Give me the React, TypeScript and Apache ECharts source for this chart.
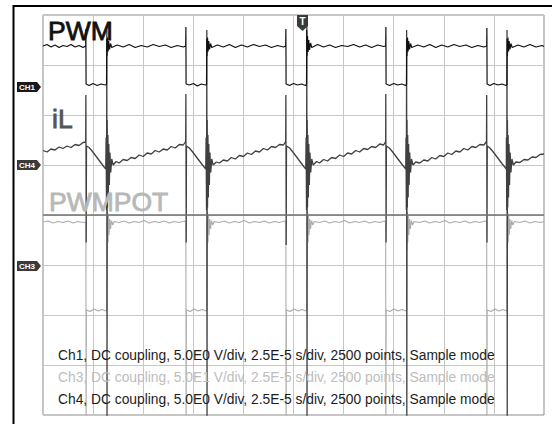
import React, { useEffect, useRef } from "react";
import * as echarts from "echarts";

// Time axis in microseconds (10 div x 25 us), vertical axis in screen divisions (-4..4)
const TIME_TICKS = [0, 25, 50, 75, 100, 125, 150, 175, 200, 225, 250];

// Ch1 – PWM
const ch1PWM: number[][] = [
  [0, 3.38], [2, 3.41], [4, 3.36], [6, 3.4], [8, 3.35], [10, 3.39], [12, 3.37], [14, 3.41], [16, 3.36], [18, 3.39], [20, 3.35], [21.3, 3.38],
  [21.4, 3.72], [21.5, 2.62], [23, 2.59], [25, 2.63], [27, 2.59], [29, 2.62], [31, 2.6], [31.7, 2.61],
  [31.8, 3.52], [31.95, 3.18], [32.2, 3.55], [32.5, 3.27], [32.8, 3.48], [33.2, 3.31], [33.7, 3.43], [34.3, 3.35],
  [37, 3.4], [40, 3.36], [43, 3.41], [46, 3.35], [49, 3.39], [52, 3.36], [55, 3.41], [58, 3.37], [61, 3.4], [64, 3.35], [67, 3.39], [70, 3.36], [71.2, 3.38],
  [71.3, 3.76], [71.4, 2.62], [73, 2.6], [75, 2.63], [77, 2.58], [79, 2.62], [81, 2.6], [81.6, 2.61],
  [81.7, 3.52], [81.85, 3.18], [82.1, 3.55], [82.4, 3.27], [82.7, 3.48], [83.1, 3.31], [83.6, 3.43], [84.2, 3.35],
  [87, 3.4], [90, 3.36], [93, 3.41], [96, 3.35], [99, 3.4], [102, 3.36], [105, 3.41], [108, 3.37], [111, 3.4], [114, 3.35], [117, 3.39], [120, 3.36], [121.1, 3.38],
  [121.2, 3.72], [121.3, 2.62], [123, 2.59], [125, 2.63], [127, 2.6], [129, 2.62], [131, 2.59], [131.5, 2.61],
  [131.6, 3.7], [131.75, 3.18], [132, 3.58], [132.3, 3.26], [132.6, 3.5], [133, 3.3], [133.5, 3.44], [134.1, 3.35],
  [137, 3.41], [140, 3.36], [143, 3.4], [146, 3.35], [149, 3.39], [152, 3.37], [155, 3.41], [158, 3.36], [161, 3.4], [164, 3.35], [167, 3.4], [170, 3.37], [171, 3.38],
  [171.1, 3.76], [171.2, 2.62], [173, 2.59], [175, 2.63], [177, 2.6], [179, 2.62], [181, 2.59], [181.4, 2.61],
  [181.5, 3.52], [181.65, 3.18], [181.9, 3.55], [182.2, 3.27], [182.5, 3.48], [182.9, 3.31], [183.4, 3.43], [184, 3.35],
  [187, 3.4], [190, 3.36], [193, 3.41], [196, 3.35], [199, 3.4], [202, 3.36], [205, 3.41], [208, 3.37], [211, 3.4], [214, 3.35], [217, 3.39], [220, 3.36], [221.4, 3.38],
  [221.5, 3.74], [221.6, 2.62], [223, 2.59], [225, 2.63], [227, 2.6], [229, 2.62], [231, 2.59], [231.5, 2.61],
  [231.6, 3.52], [231.75, 3.18], [232, 3.55], [232.3, 3.27], [232.6, 3.48], [233, 3.31], [233.5, 3.43], [234.1, 3.35],
  [237, 3.4], [240, 3.36], [243, 3.41], [246, 3.36], [249, 3.39], [250, 3.37],
];

// Ch4 – iL
const ch4IL: number[][] = [
  [0, 1.29], [2, 1.26], [4, 1.32], [6, 1.3], [8, 1.36], [10, 1.33], [12, 1.38], [14, 1.35], [16, 1.41], [18, 1.39], [20, 1.45], [21.3, 1.46],
  [21.4, 2.4], [21.55, -0.55], [21.7, 1.38], [23, 1.35], [24.5, 1.28], [26, 1.2], [27.5, 1.12], [29, 1.04], [30.5, 0.96], [31.3, 0.92],
  [31.5, 1.55], [31.7, 0.1], [31.85, 3.7], [31.95, -4.5], [32.05, 1.9], [32.2, 0.15], [32.4, 1.6], [32.6, 0.35], [32.85, 1.42], [33.1, 0.6], [33.4, 1.25], [33.8, 0.85], [34.3, 1.12], [35, 1.0],
  [36.5, 1.07], [38, 1.04], [40, 1.11], [42, 1.09], [44, 1.15], [46, 1.13], [48, 1.2], [50, 1.17], [52, 1.24], [54, 1.22], [56, 1.29], [58, 1.26], [60, 1.32], [62, 1.3], [64, 1.37], [66, 1.34], [68, 1.41], [70, 1.4], [71.2, 1.47],
  [71.3, 2.42], [71.45, -0.55], [71.6, 1.38], [73, 1.34], [74.5, 1.27], [76, 1.19], [77.5, 1.11], [79, 1.03], [80.4, 0.96], [81.2, 0.92],
  [81.4, 1.55], [81.6, 0.1], [81.75, 3.7], [81.85, -4.5], [81.95, 1.9], [82.1, 0.15], [82.3, 1.6], [82.5, 0.35], [82.75, 1.42], [83, 0.6], [83.3, 1.25], [83.7, 0.85], [84.2, 1.12], [84.9, 1.0],
  [86.5, 1.06], [88, 1.04], [90, 1.1], [92, 1.08], [94, 1.15], [96, 1.12], [98, 1.19], [100, 1.17], [102, 1.24], [104, 1.21], [106, 1.28], [108, 1.26], [110, 1.33], [112, 1.3], [114, 1.37], [116, 1.35], [118, 1.41], [120, 1.4], [121.1, 1.47],
  [121.2, 2.4], [121.35, -0.6], [121.5, 1.38], [123, 1.34], [124.5, 1.27], [126, 1.19], [127.5, 1.11], [129, 1.03], [130.3, 0.96], [131.1, 0.92],
  [131.3, 1.55], [131.5, 0.1], [131.65, 3.8], [131.75, -4.5], [131.85, 1.9], [132, 0.15], [132.2, 1.6], [132.4, 0.35], [132.65, 1.42], [132.9, 0.6], [133.2, 1.25], [133.6, 0.85], [134.1, 1.12], [134.8, 1.0],
  [136.5, 1.07], [138, 1.04], [140, 1.11], [142, 1.08], [144, 1.15], [146, 1.13], [148, 1.2], [150, 1.17], [152, 1.24], [154, 1.22], [156, 1.29], [158, 1.26], [160, 1.33], [162, 1.31], [164, 1.37], [166, 1.35], [168, 1.42], [170, 1.4], [171, 1.47],
  [171.05, 2.42], [171.2, -0.55], [171.35, 1.38], [172.8, 1.34], [174.3, 1.27], [175.8, 1.19], [177.3, 1.11], [178.8, 1.03], [180.2, 0.96], [181, 0.92],
  [181.15, 1.55], [181.3, 0.1], [181.45, 3.7], [181.55, -4.5], [181.65, 1.9], [181.8, 0.15], [182, 1.6], [182.2, 0.35], [182.45, 1.42], [182.7, 0.6], [183, 1.25], [183.4, 0.85], [183.9, 1.12], [184.6, 1.0],
  [186, 1.06], [188, 1.04], [190, 1.1], [192, 1.08], [194, 1.15], [196, 1.12], [198, 1.19], [200, 1.17], [202, 1.24], [204, 1.21], [206, 1.28], [208, 1.26], [210, 1.33], [212, 1.3], [214, 1.37], [216, 1.35], [218, 1.41], [220, 1.4], [221.3, 1.47],
  [221.4, 2.4], [221.55, -0.55], [221.7, 1.38], [223, 1.34], [224.5, 1.27], [226, 1.19], [227.5, 1.11], [229, 1.03], [230.4, 0.96], [231.2, 0.92],
  [231.25, 1.55], [231.4, 0.1], [231.55, 3.7], [231.65, -4.5], [231.75, 1.9], [231.9, 0.15], [232.1, 1.6], [232.3, 0.35], [232.55, 1.42], [232.8, 0.6], [233.1, 1.25], [233.5, 0.85], [234, 1.12], [234.7, 1.0],
  [236, 1.06], [238, 1.05], [240, 1.11], [242, 1.1], [244, 1.16], [246, 1.15], [248, 1.21], [250, 1.22],
];

// Ch3 – PWMPOT
const ch3PWMPOT: number[][] = [
  [0, -0.14], [2.5, -0.12], [5, -0.16], [7.5, -0.13], [10, -0.15], [12.5, -0.12], [15, -0.16], [17.5, -0.13], [20, -0.15], [21.4, -0.14],
  [21.5, -4.5], [21.65, -1.9], [23.5, -1.93], [25.5, -1.88], [27.5, -1.92], [29.5, -1.89], [31.5, -1.92], [31.85, -1.9],
  [31.95, -0.14], [32.05, -0.7], [32.25, 0.05], [32.45, -0.55], [32.7, -0.02], [32.95, -0.4], [33.3, -0.08], [33.7, -0.28], [34.2, -0.11], [34.8, -0.2], [35.5, -0.13],
  [38, -0.15], [40.5, -0.12], [43, -0.16], [45.5, -0.13], [48, -0.15], [50.5, -0.11], [53, -0.16], [55.5, -0.13], [58, -0.15], [60.5, -0.12], [63, -0.16], [65.5, -0.13], [68, -0.15], [70.5, -0.12], [71.3, -0.14],
  [71.4, -4.5], [71.55, -1.9], [73.4, -1.93], [75.4, -1.88], [77.4, -1.92], [79.4, -1.89], [81.4, -1.92], [81.75, -1.9],
  [81.85, -0.14], [81.95, -0.7], [82.15, 0.05], [82.35, -0.55], [82.6, -0.02], [82.85, -0.4], [83.2, -0.08], [83.6, -0.28], [84.1, -0.11], [84.7, -0.2], [85.4, -0.13],
  [88, -0.15], [90.5, -0.12], [93, -0.16], [95.5, -0.13], [98, -0.15], [100.5, -0.11], [103, -0.16], [105.5, -0.13], [108, -0.15], [110.5, -0.12], [113, -0.16], [115.5, -0.13], [118, -0.15], [120.5, -0.12], [121.2, -0.14],
  [121.3, -4.5], [121.45, -1.9], [123.3, -1.93], [125.3, -1.88], [127.3, -1.92], [129.3, -1.89], [131.3, -1.92], [131.65, -1.9],
  [131.75, -0.14], [131.85, -0.7], [132.05, 0.05], [132.25, -0.55], [132.5, -0.02], [132.75, -0.4], [133.1, -0.08], [133.5, -0.28], [134, -0.11], [134.6, -0.2], [135.3, -0.13],
  [138, -0.15], [140.5, -0.12], [143, -0.16], [145.5, -0.13], [148, -0.15], [150.5, -0.11], [153, -0.16], [155.5, -0.13], [158, -0.15], [160.5, -0.12], [163, -0.16], [165.5, -0.13], [168, -0.15], [170.3, -0.12], [171, -0.14],
  [171.1, -4.5], [171.25, -1.9], [173.1, -1.93], [175.1, -1.88], [177.1, -1.92], [179.1, -1.89], [181.1, -1.92], [181.45, -1.9],
  [181.55, -0.14], [181.65, -0.7], [181.85, 0.05], [182.05, -0.55], [182.3, -0.02], [182.55, -0.4], [182.9, -0.08], [183.3, -0.28], [183.8, -0.11], [184.4, -0.2], [185.1, -0.13],
  [188, -0.15], [190.5, -0.12], [193, -0.16], [195.5, -0.13], [198, -0.15], [200.5, -0.11], [203, -0.16], [205.5, -0.13], [208, -0.15], [210.5, -0.12], [213, -0.16], [215.5, -0.13], [218, -0.15], [220.5, -0.12], [221.4, -0.14],
  [221.5, -4.5], [221.65, -1.9], [223.5, -1.93], [225.5, -1.88], [227.5, -1.92], [229.5, -1.89], [231.3, -1.92], [231.55, -1.9],
  [231.65, -0.14], [231.75, -0.7], [231.95, 0.05], [232.15, -0.55], [232.4, -0.02], [232.65, -0.4], [233, -0.08], [233.4, -0.28], [233.9, -0.11], [234.5, -0.2], [235.2, -0.13],
  [238, -0.15], [240.5, -0.12], [243, -0.16], [245.5, -0.13], [248, -0.15], [250, -0.13],
];

const CH_NAMES = ["CH1", "CH4", "CH3"];
const CH_GROUND = [2.56, 1.0, -1.02];
const CH_TAG_COLORS = ["#1a1a1a", "#3a3a3a", "#3a3a3a"];
const TRIGGER_T = 129.5;

const TRACE_LABELS = ["PWM", "iL", "PWMPOT"];
const INFO_LINES = [
  "Ch1, DC coupling, 5.0E0 V/div, 2.5E-5 s/div, 2500 points, Sample mode",
  "Ch3, DC coupling, 5.0E1 V/div, 2.5E-5 s/div, 2500 points, Sample mode",
  "Ch4, DC coupling, 5.0E0 V/div, 2.5E-5 s/div, 2500 points, Sample mode",
];

const FONT = "'Liberation Sans', Arial, Helvetica, sans-serif";

export default function App() {
  const ref = useRef<HTMLDivElement>(null);
  useEffect(() => {
    if (!ref.current) return;
    const chart = echarts.init(ref.current, undefined, { renderer: "svg" });
    const gridLine = { show: true, lineStyle: { color: "#c6c6c6", width: 1 } };
    chart.setOption({
      animation: false,
      backgroundColor: "#ffffff",
      grid: { left: 43, top: 15, width: 501, height: 400, show: true, borderColor: "#8a8a8a", borderWidth: 1 },
      xAxis: {
        type: "value", min: TIME_TICKS[0], max: TIME_TICKS[TIME_TICKS.length - 1], interval: 25,
        axisLine: { show: false }, axisTick: { show: false }, axisLabel: { show: false }, splitLine: gridLine,
      },
      yAxis: {
        type: "value", min: -4, max: 4, interval: 1,
        axisLine: { show: false }, axisTick: { show: false }, axisLabel: { show: false }, splitLine: gridLine,
      },
      series: [
        {
          type: "line", data: [], z: 1, silent: true,
          markLine: {
            silent: true, symbol: ["none", "none"], label: { show: false },
            lineStyle: { color: "#707070", width: 1.6, type: "solid" },
            data: [{ yAxis: 0 }],
          },
        },
        { type: "line", data: ch3PWMPOT, showSymbol: false, symbol: "none", z: 2, lineStyle: { color: "#acacac", width: 1.1 } },
        { type: "line", data: ch4IL, showSymbol: false, symbol: "none", z: 3, lineStyle: { color: "#404040", width: 1.3 } },
        { type: "line", data: ch1PWM, showSymbol: false, symbol: "none", z: 4, lineStyle: { color: "#111111", width: 1.2 } },
      ],
    });

    const graphics: any[] = [];
    // outer frame
    graphics.push({ type: "line", shape: { x1: 13, y1: 6, x2: 552, y2: 6 }, style: { stroke: "#000", lineWidth: 2 } });
    graphics.push({ type: "line", shape: { x1: 13.5, y1: 5, x2: 13.5, y2: 424 }, style: { stroke: "#000", lineWidth: 2 } });

    // channel ground markers
    CH_NAMES.forEach((name, i) => {
      const y = chart.convertToPixel({ yAxisIndex: 0 }, CH_GROUND[i]) as number;
      graphics.push({
        type: "group", x: 0, y,
        children: [
          { type: "polygon", shape: { points: [[17, -5], [37, -5], [41, 0], [37, 5], [17, 5]] }, style: { fill: CH_TAG_COLORS[i] } },
          {
            type: "text", x: 27, y: 0.5,
            style: { text: name, fill: "#fff", font: `bold 8px ${FONT}`, align: "center", verticalAlign: "middle", textAlign: "center", textVerticalAlign: "middle" },
          },
        ],
      });
    });

    // trigger marker
    const tx = chart.convertToPixel({ xAxisIndex: 0 }, TRIGGER_T) as number;
    graphics.push({
      type: "group", x: tx, y: 15,
      children: [
        { type: "polygon", shape: { points: [[-5.5, 0], [5.5, 0], [5.5, 11], [0, 16], [-5.5, 11]] }, style: { fill: "#3a3a3a" } },
        {
          type: "text", x: 0, y: 6.5,
          style: { text: "T", fill: "#fff", font: `bold 10px ${FONT}`, align: "center", verticalAlign: "middle", textAlign: "center", textVerticalAlign: "middle" },
        },
      ],
    });

    // trace labels
    const labelPos = [[48, 30.5, "#111111"], [52, 119, "#555555"], [49, 201.5, "#b8b8b8"]];
    TRACE_LABELS.forEach((t, i) => {
      graphics.push({
        type: "text", x: labelPos[i][0], y: labelPos[i][1], z: 10,
        style: {
          text: t, fill: labelPos[i][2], stroke: labelPos[i][2], lineWidth: 0.8,
          font: `26.5px ${FONT}`, align: "left", verticalAlign: "middle", textAlign: "left", textVerticalAlign: "middle",
        },
      });
    });

    // info lines
    const infoColors = ["#1c1c1c", "#bdbdbd", "#1c1c1c"];
    const infoY = [355, 377, 399];
    INFO_LINES.forEach((t, i) => {
      graphics.push({
        type: "text", x: 58, y: infoY[i], z: 10,
        style: { text: t, fill: infoColors[i], font: `13.8px ${FONT}`, align: "left", verticalAlign: "middle", textAlign: "left", textVerticalAlign: "middle" },
      });
    });

    chart.setOption({ graphic: graphics });
    return () => chart.dispose();
  }, []);
  return <div ref={ref} style={{ position: "fixed", left: 0, top: 0, width: 552, height: 424, background: "#fff" }} />;
}
